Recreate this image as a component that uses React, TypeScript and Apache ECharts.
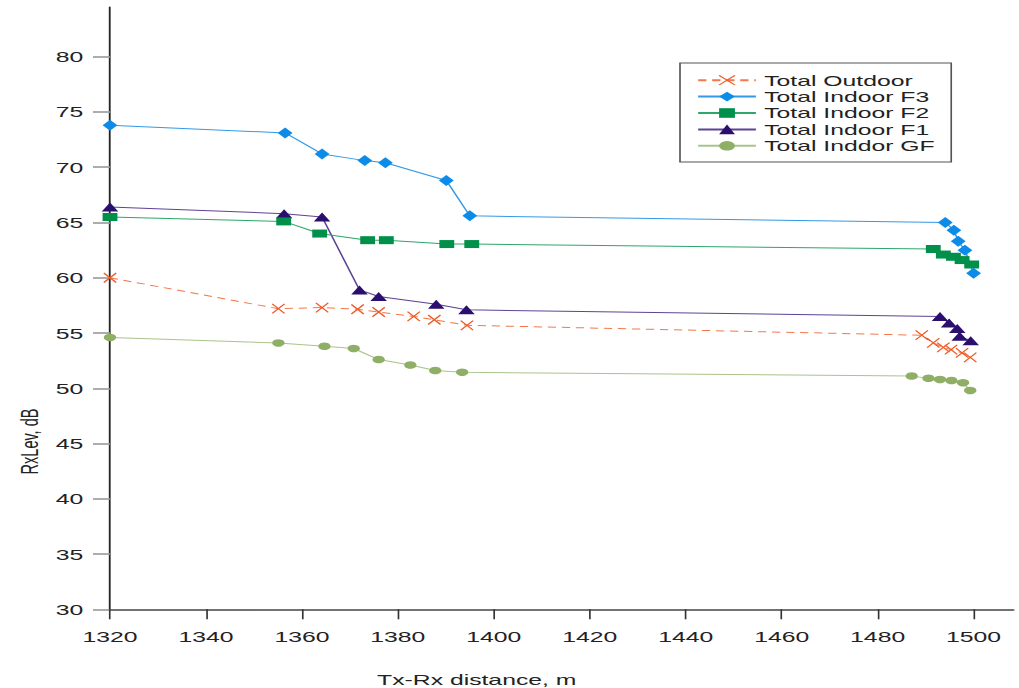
import React, { useEffect, useRef } from "react";
import * as echarts from "echarts";

// ---- data ----
const xTicks = [1320, 1340, 1360, 1380, 1400, 1420, 1440, 1460, 1480, 1500];
const yTicks = [30, 35, 40, 45, 50, 55, 60, 65, 70, 75, 80];

const seriesNames = [
  "Total Outdoor",
  "Total Indoor F3",
  "Total Indoor F2",
  "Total Indoor F1",
  "Total Inddor GF",
];

const outdoorX = [1320, 1355.1, 1364.2, 1371.6, 1376.0, 1383.3, 1387.6, 1394.4, 1489.2, 1491.6, 1493.7, 1495.3, 1497.6, 1499.3];
const outdoorY = [60.0, 57.2, 57.3, 57.15, 56.9, 56.5, 56.2, 55.7, 54.8, 54.1, 53.7, 53.5, 53.2, 52.8];

const f3X = [1320, 1356.5, 1364.2, 1373.1, 1377.4, 1390.1, 1395.0, 1494.1, 1495.9, 1496.8, 1498.2, 1500.0];
const f3Y = [73.8, 73.1, 71.2, 70.6, 70.4, 68.8, 65.6, 65.0, 64.3, 63.3, 62.5, 60.4];

const f2X = [1320, 1356.2, 1363.7, 1373.7, 1377.6, 1390.2, 1395.4, 1491.6, 1493.7, 1495.8, 1497.6, 1499.6];
const f2Y = [65.5, 65.1, 64.0, 63.4, 63.4, 63.05, 63.05, 62.6, 62.1, 61.9, 61.6, 61.2];

const f1X = [1320, 1356.3, 1364.2, 1372.0, 1376.0, 1388.0, 1394.3, 1493.0, 1494.9, 1496.6, 1497.1, 1499.4];
const f1Y = [66.4, 65.8, 65.5, 58.9, 58.3, 57.6, 57.1, 56.5, 55.9, 55.4, 54.7, 54.3];

const gfX = [1320, 1355.1, 1364.7, 1370.8, 1376.0, 1382.6, 1387.8, 1393.4, 1487.1, 1490.6, 1493.0, 1495.4, 1497.8, 1499.3];
const gfY = [54.6, 54.1, 53.8, 53.6, 52.6, 52.1, 51.6, 51.45, 51.1, 50.9, 50.8, 50.7, 50.5, 49.8];

// ---- layout (the original picture is horizontally stretched) ----
const S = 1.65;
const W = 1019 / S;
const H = 688;
const FONT = "'Liberation Sans', Arial, sans-serif";

const pairs = (xs: number[], ys: number[]) => xs.map((x, i) => [x, ys[i]]);

function lineSeries(
  name: string,
  data: number[][],
  symbol: string,
  symbolSize: number[],
  markerColor: string,
  lineColor: string,
  dashed: boolean,
  extraItem: any = {}
) {
  return {
    name,
    type: "line",
    data,
    symbol,
    symbolSize,
    showSymbol: true,
    itemStyle: { color: markerColor, ...extraItem },
    lineStyle: { color: lineColor, width: 1, type: dashed ? [5, 3.5] : "solid" },
    emphasis: { disabled: true },
  };
}

const option: any = {
  animation: false,
  backgroundColor: "#ffffff",
  textStyle: { fontFamily: FONT },
  grid: { left: 110 / S, right: (1019 - 1012.7) / S, top: 7, bottom: H - 609.3 },
  legend: {
    data: seriesNames,
    orient: "vertical",
    left: 680 / S,
    top: 63,
    padding: [9, 10, 8, 10],
    borderColor: "#555",
    borderWidth: 1,
    backgroundColor: "#fff",
    itemWidth: 35,
    itemHeight: 12,
    itemGap: 0,
    textStyle: { fontSize: 15, color: "#222", fontFamily: FONT, lineHeight: 16.4 },
    itemStyle: { borderWidth: 1 },
  },
  xAxis: {
    type: "value",
    min: 1320,
    max: 1508.3,
    splitLine: { show: false },
    axisLine: { show: true, onZero: false, lineStyle: { color: "#444", width: 1.5 } },
    axisTick: { show: true, length: 10, customValues: xTicks, lineStyle: { color: "#333", width: 1 } },
    axisLabel: {
      customValues: xTicks,
      margin: 20,
      fontSize: 15,
      color: "#222",
      fontFamily: FONT,
      formatter: (v: number) => String(v),
    },
  },
  yAxis: {
    type: "value",
    min: 30,
    max: 84.5,
    splitLine: { show: false },
    axisLine: { show: true, onZero: false, lineStyle: { color: "#222", width: 1.1 } },
    axisTick: { show: true, length: 17 / S, customValues: yTicks, lineStyle: { color: "#999", width: 1.6 } },
    axisLabel: {
      customValues: yTicks,
      margin: 26.7 / S,
      fontSize: 15,
      color: "#222",
      fontFamily: FONT,
      formatter: (v: number) => String(v),
    },
  },
  graphic: [
    {
      type: "text",
      x: 29.2 / S,
      y: 441.5,
      rotation: Math.PI / 2,
      style: {
        text: "RxLev, dB",
        fontSize: 14.5,
        fontFamily: FONT,
        fill: "#222",
        align: "center",
        verticalAlign: "middle",
      },
    },
    {
      type: "text",
      x: 476.7 / S,
      y: 679.3,
      style: {
        text: "Tx-Rx distance, m",
        fontSize: 15,
        fontFamily: FONT,
        fill: "#222",
        align: "center",
        verticalAlign: "middle",
      },
    },
  ],
  series: [
    lineSeries(seriesNames[4], pairs(gfX, gfY), "circle", [7.5, 7.5], "#8fae66", "#a9c48c", false),
    lineSeries(seriesNames[3], pairs(f1X, f1Y), "triangle", [10, 9], "#2b0f6e", "#5d4394", false),
    lineSeries(seriesNames[0], pairs(outdoorX, outdoorY), "path://M0,0L10,10M10,0L0,10", [7.5, 9.5], "#ef5a26", "#f2794c", true, {
      borderColor: "#ef5a26",
      borderWidth: 1,
    }),
    lineSeries(seriesNames[2], pairs(f2X, f2Y), "rect", [9, 8], "#00904a", "#2fa66b", false),
    lineSeries(seriesNames[1], pairs(f3X, f3Y), "diamond", [9, 11], "#0c8ce8", "#3399e6", false),
  ],
};

export default function App() {
  const ref = useRef<HTMLDivElement>(null);
  useEffect(() => {
    if (!ref.current) return;
    const chart = echarts.init(ref.current, null, { renderer: "svg" });
    chart.setOption(option);
    return () => chart.dispose();
  }, []);
  return (
    <div
      ref={ref}
      style={{
        position: "fixed",
        left: 0,
        top: 0,
        width: W,
        height: H,
        transform: `scaleX(${S})`,
        transformOrigin: "0 0",
        background: "#fff",
      }}
    />
  );
}
